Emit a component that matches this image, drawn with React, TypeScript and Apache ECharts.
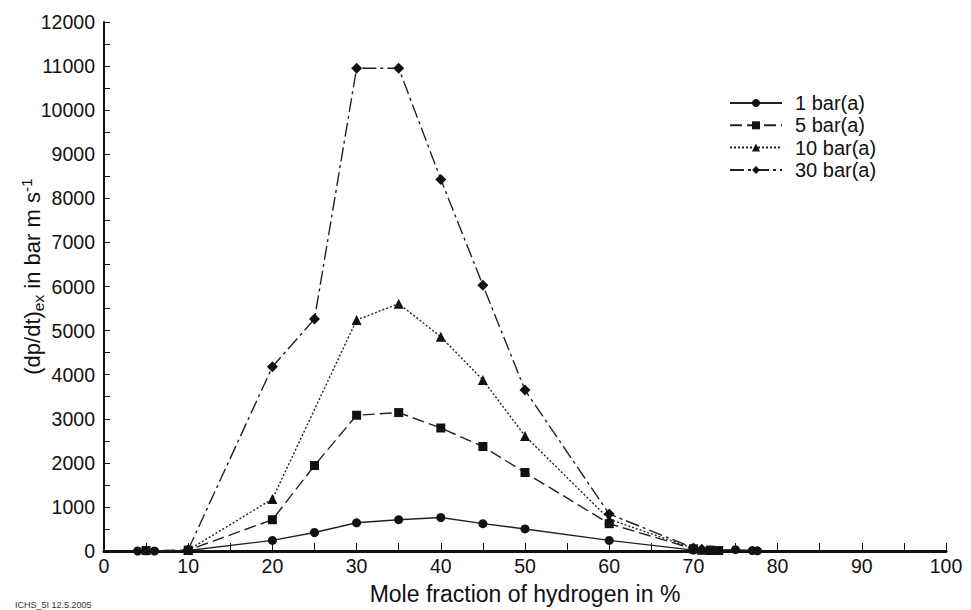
import React, { useEffect, useRef } from "react";
import * as echarts from "echarts";

// Mole fraction of hydrogen (%) and max rate of pressure rise (bar m/s) per initial pressure
const x1bar = [4, 5, 6, 10, 20, 25, 30, 35, 40, 45, 50, 60, 70, 75, 77, 77.6];
const y1bar = [0, 5, 0, 10, 240, 420, 640, 710, 760, 620, 500, 240, 20, 30, 10, 5];

const x5bar = [5, 10, 20, 25, 30, 35, 40, 45, 50, 60, 70, 72, 73];
const y5bar = [10, 20, 710, 1940, 3080, 3140, 2790, 2370, 1780, 620, 50, 20, 10];

const x10bar = [10, 20, 30, 35, 40, 45, 50, 60, 70, 71, 72];
const y10bar = [20, 1180, 5240, 5610, 4860, 3880, 2610, 720, 60, 30, 20];

const x30bar = [10, 20, 25, 30, 35, 40, 45, 50, 60, 70, 71];
const y30bar = [30, 4180, 5260, 10950, 10950, 8430, 6030, 3650, 840, 70, 40];

const seriesNames = ["1 bar(a)", "5 bar(a)", "10 bar(a)", "30 bar(a)"];

const FONT = "Liberation Sans, Arial, sans-serif";
const INK = "#111";

function pairs(xs: number[], ys: number[]) {
  return xs.map((x, i) => [x, ys[i]]);
}

export default function App() {
  const ref = useRef<HTMLDivElement>(null);

  useEffect(() => {
    if (!ref.current) return;
    const chart = echarts.init(ref.current, null, { renderer: "svg" });

    const mk = (
      name: string,
      data: number[][],
      symbol: string,
      symbolSize: number,
      dash: any
    ) => ({
      name,
      type: "line",
      data,
      symbol,
      symbolSize,
      showAllSymbol: true,
      itemStyle: { color: INK },
      lineStyle: { color: "#222", width: 1.4, type: dash },
      emphasis: { disabled: true },
    });

    chart.setOption({
      animation: false,
      backgroundColor: "#fff",
      grid: {
        left: 104,
        right: 25,
        top: 22,
        bottom: 59,
        containLabel: false,
        outerBoundsMode: "none",
      },
      legend: {
        left: 724,
        top: 88,
        orient: "vertical",
        itemWidth: 52,
        itemHeight: 10,
        itemGap: 2.3,
        selectedMode: false,
        textStyle: { fontFamily: FONT, fontSize: 20, color: INK, lineHeight: 20, padding: [0, 0, 0, 8] },
        data: seriesNames,
      },
      xAxis: {
        type: "value",
        min: 0,
        max: 100,
        interval: 10,
        name: "Mole fraction of hydrogen in %",
        nameLocation: "middle",
        nameGap: 31,
        nameMoveOverlap: false,
        nameTextStyle: { fontFamily: FONT, fontSize: 23, color: INK },
        axisLine: { show: true, onZero: false, lineStyle: { color: INK, width: 3 } },
        axisTick: { show: true, inside: true, length: 8, lineStyle: { color: INK, width: 1 } },
        minorTick: { show: true, splitNumber: 2, length: 8, lineStyle: { color: INK, width: 1 } },
        axisLabel: { fontFamily: FONT, fontSize: 19.5, color: INK, margin: 5 },
        splitLine: { show: false },
      },
      yAxis: {
        type: "value",
        min: 0,
        max: 12000,
        interval: 1000,
        name: "{t|(dp/dt)}{sub|ex}{t| in bar m s}{sup|-1}",
        nameLocation: "middle",
        nameGap: 56,
        nameRotate: 90,
        nameMoveOverlap: false,
        nameTextStyle: {
          fontFamily: FONT,
          color: INK,
          padding: [0, 0, 0, 20],
          rich: {
            t: { fontFamily: FONT, fontSize: 22, color: INK, lineHeight: 32, verticalAlign: "middle" },
            sub: { fontFamily: FONT, fontSize: 15.5, color: INK, lineHeight: 32, verticalAlign: "bottom", padding: [0, 0, 2, 0] },
            sup: { fontFamily: FONT, fontSize: 15.5, color: INK, lineHeight: 32, verticalAlign: "top", padding: [2, 0, 0, 0] },
          },
        },
        axisLine: { show: true, lineStyle: { color: INK, width: 2 } },
        axisTick: { show: true, inside: true, length: 6, lineStyle: { color: INK, width: 1 } },
        minorTick: { show: true, splitNumber: 2, length: 6, lineStyle: { color: INK, width: 1 } },
        axisLabel: {
          fontFamily: FONT,
          fontSize: 19.5,
          color: INK,
          margin: 9,
          formatter: (v: number) => String(v),
        },
        splitLine: { show: false },
      },
      graphic: [
        {
          type: "text",
          left: 15,
          top: 600,
          style: { text: "ICHS_5I 12.5.2005", fontFamily: FONT, fontSize: 9, fill: "#333" },
        },
      ],
      series: [
        mk(seriesNames[0], pairs(x1bar, y1bar), "circle", 9, "solid"),
        mk(seriesNames[1], pairs(x5bar, y5bar), "rect", 9, [12, 5]),
        mk(seriesNames[2], pairs(x10bar, y10bar), "triangle", 10, [2, 2]),
        mk(seriesNames[3], pairs(x30bar, y30bar), "diamond", 11, [14, 4, 3, 4]),
      ],
    });

    return () => chart.dispose();
  }, []);

  return (
    <div
      ref={ref}
      style={{ position: "fixed", left: 0, top: 0, width: 971, height: 610 }}
    />
  );
}
